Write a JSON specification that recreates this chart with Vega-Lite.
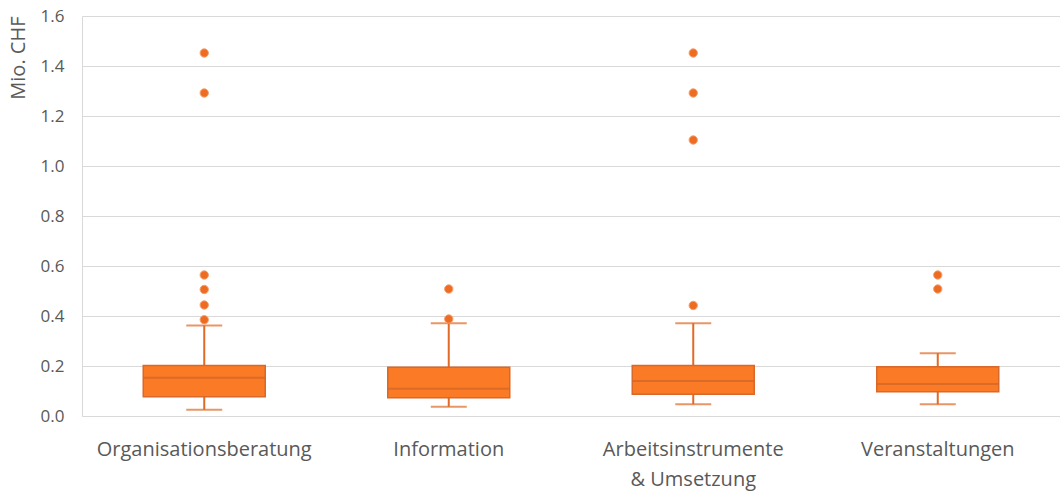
{
  "$schema": "https://vega.github.io/schema/vega-lite/v6.json",
  "width": 978,
  "height": 400,
  "autosize": {"type": "none"},
  "padding": {"left": 82, "top": 16, "right": 0, "bottom": 76},
  "background": "white",
  "config": {
    "view": {"stroke": null},
    "font": "Open Sans",
    "axis": {"labelFont": "Open Sans", "titleFont": "Open Sans", "labelColor": "#595959", "titleColor": "#595959"}
  },
  "datasets": {
    "boxes": [
      {"cat": "Organisationsberatung", "lower": 0.025, "q1": 0.077, "median": 0.153, "q3": 0.202, "upper": 0.362},
      {"cat": "Information", "lower": 0.037, "q1": 0.073, "median": 0.109, "q3": 0.195, "upper": 0.371},
      {"cat": "Arbeitsinstrumente & Umsetzung", "lower": 0.047, "q1": 0.087, "median": 0.14, "q3": 0.202, "upper": 0.371},
      {"cat": "Veranstaltungen", "lower": 0.047, "q1": 0.097, "median": 0.128, "q3": 0.197, "upper": 0.251}
    ],
    "outliers": [
      {"cat": "Organisationsberatung", "value": 1.452},
      {"cat": "Organisationsberatung", "value": 1.292},
      {"cat": "Organisationsberatung", "value": 0.564},
      {"cat": "Organisationsberatung", "value": 0.506},
      {"cat": "Organisationsberatung", "value": 0.444},
      {"cat": "Organisationsberatung", "value": 0.385},
      {"cat": "Information", "value": 0.508},
      {"cat": "Information", "value": 0.388},
      {"cat": "Arbeitsinstrumente & Umsetzung", "value": 1.452},
      {"cat": "Arbeitsinstrumente & Umsetzung", "value": 1.292},
      {"cat": "Arbeitsinstrumente & Umsetzung", "value": 1.104},
      {"cat": "Arbeitsinstrumente & Umsetzung", "value": 0.442},
      {"cat": "Veranstaltungen", "value": 0.564},
      {"cat": "Veranstaltungen", "value": 0.508}
    ]
  },
  "encoding": {
    "x": {
      "field": "cat", "type": "nominal", "sort": null,
      "scale": {"paddingInner": 0, "paddingOuter": 0},
      "axis": {
        "title": null, "labelAngle": 0, "labelFontSize": 20, "labelPadding": 23, "labelLimit": 400,
        "labelLineHeight": 30, "ticks": false, "domain": true, "domainColor": "#D9D9D9", "domainWidth": 1,
        "labelExpr": "datum.label == 'Arbeitsinstrumente & Umsetzung' ? ['Arbeitsinstrumente', '& Umsetzung'] : datum.label"
      }
    }
  },
  "layer": [
    {
      "data": {"name": "boxes"},
      "mark": {"type": "rule", "color": "#E06A26", "strokeWidth": 2},
      "encoding": {
        "y": {"field": "lower", "type": "quantitative",
          "scale": {"domain": [0, 1.6]},
          "axis": {"title": "Mio. CHF", "titleAnchor": "end", "titleFontSize": 20, "titleFontWeight": "normal", "titlePadding": 12,
            "values": [0, 0.2, 0.4, 0.6, 0.8, 1.0, 1.2, 1.4, 1.6], "format": ".1f",
            "labelFontSize": 17, "labelPadding": 18, "ticks": false,
            "domain": true, "domainColor": "#D9D9D9", "grid": true, "gridColor": "#D9D9D9", "gridWidth": 1}},
        "y2": {"field": "upper"}
      }
    },
    {
      "data": {"name": "boxes"},
      "mark": {"type": "bar", "size": 122, "fill": "#FB7A25", "stroke": "#D8692A", "strokeWidth": 1.5},
      "encoding": {
        "y": {"field": "q1", "type": "quantitative"},
        "y2": {"field": "q3"}
      }
    },
    {
      "data": {"name": "boxes"},
      "mark": {"type": "tick", "size": 122, "thickness": 2, "color": "#D0652A", "orient": "horizontal"},
      "encoding": {"y": {"field": "median", "type": "quantitative"}}
    },
    {
      "data": {"name": "boxes"},
      "mark": {"type": "tick", "size": 36, "thickness": 2, "color": "#E06A26", "orient": "horizontal"},
      "encoding": {"y": {"field": "upper", "type": "quantitative"}}
    },
    {
      "data": {"name": "boxes"},
      "mark": {"type": "tick", "size": 36, "thickness": 2, "color": "#E06A26", "orient": "horizontal"},
      "encoding": {"y": {"field": "lower", "type": "quantitative"}}
    },
    {
      "data": {"name": "outliers"},
      "mark": {"type": "point", "filled": true, "size": 70, "fill": "#EE6C22", "stroke": "#F6A070", "strokeWidth": 1, "opacity": 1},
      "encoding": {"y": {"field": "value", "type": "quantitative"}}
    }
  ]
}
